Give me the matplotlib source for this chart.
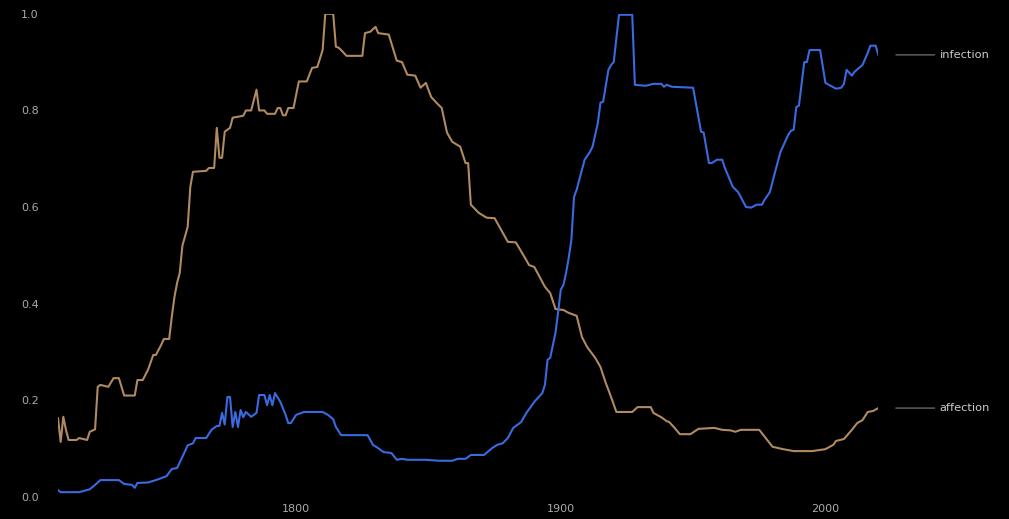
"""
Word frequency over time: affection vs infection (normalised).
"""

import matplotlib
matplotlib.use("Agg")
import matplotlib.pyplot as plt

# Data (year, normalised frequency)
affection_years = [
    1710, 1711, 1712, 1713, 1714, 1717, 1718, 1721, 1722, 1724, 1725, 1726,
    1729, 1731, 1733, 1735, 1739, 1740, 1742, 1744, 1746, 1747, 1749, 1750,
    1752, 1753, 1754, 1755, 1756, 1757, 1759, 1760, 1761, 1766, 1767, 1769,
    1770, 1771, 1772, 1773, 1775, 1776, 1778, 1780, 1781, 1783, 1785, 1786,
    1788, 1789, 1792, 1793, 1794, 1795, 1796, 1797, 1799, 1801, 1804, 1806,
    1808, 1810, 1811, 1814, 1815, 1816, 1817, 1819, 1825, 1826, 1828, 1830,
    1831, 1835, 1838, 1840, 1842, 1845, 1847, 1849, 1851, 1853, 1855, 1857,
    1859, 1862, 1864, 1865, 1866, 1869, 1872, 1875, 1880, 1883, 1887, 1888,
    1890, 1894, 1896, 1898, 1901, 1903, 1906, 1908, 1910, 1913, 1915, 1917,
    1919, 1921, 1927, 1929, 1934, 1935, 1938, 1940, 1941, 1943, 1945, 1949,
    1952, 1958, 1961, 1964, 1966, 1968, 1975, 1978, 1980, 1984, 1988, 1995,
    2000, 2003, 2004, 2007, 2010, 2012, 2014, 2016, 2018, 2020,
]
affection = [
    0.163, 0.114, 0.166, 0.139, 0.118, 0.118, 0.122, 0.118, 0.135, 0.140, 0.228, 0.232,
    0.228, 0.246, 0.246, 0.210, 0.210, 0.242, 0.242, 0.263, 0.294, 0.294, 0.315, 0.327,
    0.327, 0.373, 0.414, 0.443, 0.464, 0.520, 0.559, 0.642, 0.673, 0.675, 0.681, 0.681,
    0.764, 0.702, 0.702, 0.756, 0.764, 0.785, 0.787, 0.789, 0.800, 0.800, 0.843, 0.800,
    0.800, 0.793, 0.793, 0.805, 0.805, 0.790, 0.790, 0.805, 0.805, 0.860, 0.860, 0.888,
    0.890, 0.925, 1.000, 1.000, 0.932, 0.930, 0.925, 0.913, 0.913, 0.960, 0.963, 0.973,
    0.960, 0.957, 0.903, 0.900, 0.874, 0.872, 0.847, 0.857, 0.828, 0.816, 0.805, 0.754,
    0.735, 0.725, 0.691, 0.691, 0.605, 0.588, 0.578, 0.577, 0.528, 0.527, 0.490, 0.480,
    0.476, 0.435, 0.422, 0.389, 0.387, 0.381, 0.375, 0.331, 0.310, 0.288, 0.269, 0.236,
    0.207, 0.176, 0.176, 0.186, 0.186, 0.174, 0.165, 0.157, 0.155, 0.143, 0.130, 0.130,
    0.141, 0.143, 0.139, 0.138, 0.135, 0.139, 0.139, 0.118, 0.104, 0.099, 0.095, 0.095,
    0.099, 0.108, 0.116, 0.120, 0.139, 0.153, 0.159, 0.176, 0.178, 0.184,
]

infection_years = [
    1710, 1711, 1718, 1722, 1724, 1726, 1733, 1735, 1738, 1739, 1740, 1744,
    1747, 1751, 1753, 1755, 1757, 1759, 1761, 1762, 1766, 1768, 1770, 1771,
    1772, 1773, 1774, 1775, 1776, 1777, 1778, 1779, 1780, 1781, 1783, 1785,
    1786, 1788, 1789, 1790, 1791, 1792, 1794, 1796, 1797, 1798, 1800, 1803,
    1810, 1812, 1814, 1815, 1817, 1827, 1829, 1831, 1833, 1836, 1838, 1840,
    1842, 1849, 1854, 1859, 1861, 1864, 1866, 1871, 1874, 1876, 1878, 1880,
    1882, 1885, 1887, 1890, 1893, 1894, 1895, 1896, 1898, 1899, 1900, 1901,
    1902, 1903, 1904, 1905, 1906, 1909, 1911, 1912, 1914, 1915, 1916, 1918,
    1919, 1920, 1922, 1927, 1928, 1932, 1935, 1938, 1939, 1940, 1942, 1950,
    1953, 1954, 1956, 1957, 1959, 1961, 1962, 1965, 1967, 1968, 1970, 1972,
    1974, 1976, 1977, 1979, 1981, 1983, 1986, 1987, 1988, 1989, 1990, 1992,
    1993, 1994, 1998, 2000, 2002, 2004, 2006, 2007, 2008, 2010, 2011, 2014,
    2016, 2017, 2019, 2020,
]
infection = [
    0.014, 0.010, 0.010, 0.016, 0.025, 0.035, 0.035, 0.027, 0.025, 0.019, 0.029, 0.030,
    0.035, 0.043, 0.058, 0.060, 0.083, 0.107, 0.111, 0.122, 0.122, 0.139, 0.147, 0.147,
    0.174, 0.150, 0.207, 0.207, 0.145, 0.176, 0.145, 0.180, 0.165, 0.176, 0.166, 0.174,
    0.211, 0.211, 0.190, 0.211, 0.190, 0.215, 0.197, 0.170, 0.153, 0.153, 0.170, 0.176,
    0.176, 0.170, 0.161, 0.145, 0.128, 0.128, 0.108, 0.101, 0.093, 0.091, 0.077, 0.079,
    0.077, 0.077, 0.075, 0.075, 0.079, 0.079, 0.087, 0.087, 0.101, 0.108, 0.111, 0.122,
    0.143, 0.155, 0.174, 0.197, 0.215, 0.232, 0.284, 0.288, 0.340, 0.383, 0.429, 0.439,
    0.464, 0.495, 0.532, 0.621, 0.636, 0.698, 0.714, 0.725, 0.774, 0.816, 0.818, 0.884,
    0.894, 0.900, 0.998, 0.998, 0.853, 0.851, 0.855, 0.855, 0.849, 0.853, 0.849, 0.847,
    0.756, 0.754, 0.691, 0.691, 0.698, 0.698, 0.681, 0.642, 0.631, 0.621, 0.600, 0.599,
    0.605, 0.605, 0.615, 0.631, 0.673, 0.714, 0.750, 0.758, 0.760, 0.807, 0.810, 0.900,
    0.900, 0.925, 0.925, 0.857, 0.851, 0.845, 0.847, 0.855, 0.884, 0.872, 0.880, 0.894,
    0.919, 0.934, 0.934, 0.915,
]

series_names = ["affection", "infection"]
series_colors = ["#b08a60", "#3a6ae0"]

x_ticks = [1800, 1900, 2000]
y_ticks = [0.0, 0.2, 0.4, 0.6, 0.8, 1.0]

# Figure
fig = plt.figure(figsize=(10.09, 5.19), dpi=100, facecolor="black")
ax = fig.add_axes([0.0575, 0.0424, 0.813, 0.931], facecolor="black")

ax.plot(affection_years, affection, color=series_colors[0], lw=1.5)
ax.plot(infection_years, infection, color=series_colors[1], lw=1.5)

ax.set_xlim(1710, 2020)
ax.set_ylim(0.0, 1.0)
ax.set_xticks(x_ticks)
ax.set_yticks(y_ticks)
ax.set_yticklabels([f"{v:.1f}" for v in y_ticks])
ax.tick_params(colors="#aaaaaa", labelsize=8, length=0, pad=5)
ax.tick_params(axis="y", pad=14)
for s in ax.spines.values():
    s.set_visible(False)

# End labels with leader lines
for name, vals in [("affection", affection), ("infection", infection)]:
    y_end = vals[-1]
    ax.annotate("", xy=(1.018, y_end), xytext=(1.072, y_end),
                xycoords=("axes fraction", "data"),
                arrowprops=dict(arrowstyle="-", color="#666666", lw=1))
    ax.text(1.075, y_end, name, transform=ax.get_yaxis_transform(),
            color="#cccccc", fontsize=8.2, va="center", ha="left")

fig.savefig("out.png", dpi=100, facecolor="black")
